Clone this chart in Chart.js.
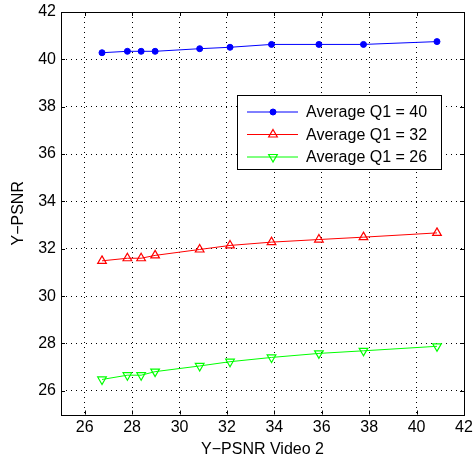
<!DOCTYPE html>
<html><head><meta charset="utf-8">
<script src="https://cdn.jsdelivr.net/npm/chart.js@4.4.1/dist/chart.umd.min.js"></script>
<style>html,body{margin:0;padding:0;background:#fff}#wrap{width:476px;height:459px}</style>
</head><body><div id="wrap"><canvas id="c" width="476" height="459"></canvas></div>
<script>
const xValues = [26.73, 27.80, 28.38, 28.97, 30.85, 32.13, 33.88, 35.88, 37.76, 40.86];
const q40 = [40.28, 40.34, 40.34, 40.34, 40.45, 40.51, 40.63, 40.63, 40.63, 40.75];
const q32 = [31.49, 31.60, 31.60, 31.72, 31.97, 32.14, 32.28, 32.39, 32.49, 32.67];
const q26 = [26.48, 26.66, 26.66, 26.81, 27.05, 27.23, 27.41, 27.58, 27.69, 27.88];
const seriesNames = ['Average Q1 = 40', 'Average Q1 = 32', 'Average Q1 = 26'];
const xTicks = [26, 28, 30, 32, 34, 36, 38, 40, 42];
const yTicks = [26, 28, 30, 32, 34, 36, 38, 40, 42];
const FONT = "'Liberation Sans', Arial, Helvetica, sans-serif";

const pts = ys => ys.map((y, i) => ({x: xValues[i], y}));

const frame = {
  id: 'frame',
  afterDraw(chart) {
    const {ctx, chartArea: a} = chart;
    ctx.save();
    ctx.strokeStyle = '#000'; ctx.lineWidth = 1;
    ctx.strokeRect(Math.round(a.left) + 0.5, Math.round(a.top) + 0.5, Math.round(a.right - a.left), Math.round(a.bottom - a.top));
    const xs = chart.scales.x, ys = chart.scales.y;
    ctx.beginPath();
    xTicks.forEach(v => { const p = Math.round(xs.getPixelForValue(v)) + 0.5;
      ctx.moveTo(p, a.bottom); ctx.lineTo(p, a.bottom - 4); ctx.moveTo(p, a.top); ctx.lineTo(p, a.top + 4); });
    yTicks.forEach(v => { const p = Math.round(ys.getPixelForValue(v)) + 0.5;
      ctx.moveTo(a.left, p); ctx.lineTo(a.left + 4, p); ctx.moveTo(a.right, p); ctx.lineTo(a.right - 4, p); });
    ctx.stroke();
    const bx = 237.5, by = 95.5, bw = 204, bh = 74;
    ctx.fillStyle = '#fff'; ctx.fillRect(bx, by, bw, bh);
    ctx.strokeStyle = '#000';
    ctx.strokeRect(bx, by, bw, bh);
    chart.data.datasets.forEach((ds, i) => {
      const yy = 112 + i * 22.5;
      ctx.strokeStyle = ds.borderColor; ctx.lineWidth = 1;
      ctx.beginPath(); ctx.moveTo(247, yy); ctx.lineTo(298, yy); ctx.stroke();
      ctx.fillStyle = ds.backgroundColor; ctx.strokeStyle = ds.borderColor; ctx.lineWidth = ds.pointBorderWidth;
      Chart.helpers.drawPoint(ctx, {pointStyle: ds.pointStyle, rotation: ds.pointRotation || 0, radius: ds.pointRadius, borderWidth: ds.pointBorderWidth}, 273, yy);
      ctx.fillStyle = '#000'; ctx.font = '16px ' + FONT; ctx.textBaseline = 'middle'; ctx.textAlign = 'left';
      ctx.fillText(ds.label, 306, yy + 1);
    });
    ctx.restore();
  }
};

new Chart(document.getElementById('c'), {
  type: 'line',
  data: {
    datasets: [
      {label: seriesNames[0], data: pts(q40), borderColor: '#0000ff', backgroundColor: '#0000ff', pointStyle: 'circle', pointRadius: 3, pointBorderWidth: 1, borderWidth: 1},
      {label: seriesNames[1], data: pts(q32), borderColor: '#ff0000', backgroundColor: 'rgba(0,0,0,0)', pointStyle: 'triangle', pointRadius: 5, pointBorderWidth: 1.2, borderWidth: 1},
      {label: seriesNames[2], data: pts(q26), borderColor: '#00ff00', backgroundColor: 'rgba(0,0,0,0)', pointStyle: 'triangle', pointRotation: 180, pointRadius: 5, pointBorderWidth: 1.2, borderWidth: 1}
    ]
  },
  options: {
    responsive: false, animation: false,
    layout: {padding: {top: 12, right: 12, left: 9, bottom: 0}},
    plugins: {legend: {display: false}, tooltip: {enabled: false}},
    scales: {
      x: {type: 'linear', min: 25, max: 42,
        afterBuildTicks: s => { s.ticks = xTicks.map(v => ({value: v})); },
        afterFit: s => { s.height = 44.5; s.paddingLeft = 0; s.paddingRight = 0; },
        grid: {color: '#000', lineWidth: 1, drawTicks: false},
        border: {display: false, dash: [1, 4]},
        ticks: {color: '#000', font: {family: FONT, size: 16}, padding: 3, maxRotation: 0},
        title: {display: true, text: 'Y\u2212PSNR Video 2', color: '#000', font: {family: FONT, size: 16}, padding: {top: 0, bottom: 0}}
      },
      y: {type: 'linear', min: 25, max: 42,
        afterBuildTicks: s => { s.ticks = yTicks.map(v => ({value: v})); },
        afterFit: s => { s.width = 52; s.paddingTop = 0; s.paddingBottom = 0; },
        grid: {color: '#000', lineWidth: 1, drawTicks: false},
        border: {display: false, dash: [1, 4]},
        ticks: {color: '#000', font: {family: FONT, size: 16}, padding: 5},
        title: {display: true, text: 'Y\u2212PSNR', color: '#000', font: {family: FONT, size: 16}, padding: {top: 0, bottom: 0}}
      }
    }
  },
  plugins: [frame]
});
</script></body></html>
